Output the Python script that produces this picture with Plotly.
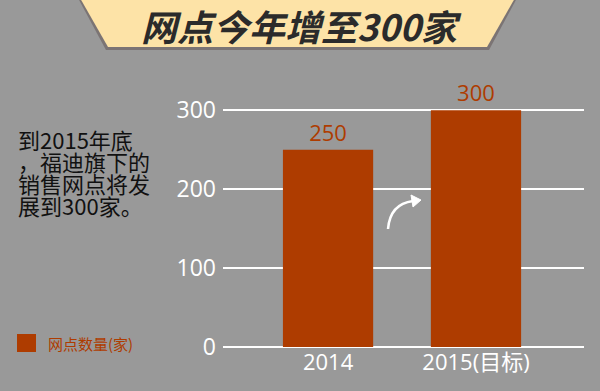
import plotly.graph_objects as go

categories = ["2014", "2015(目标)"]
values = [250, 300]
value_labels = ["250", "300"]
y_ticks = [0, 100, 200, 300]
series_name = "网点数量(家)"
title_text = "网点今年增至300家"
side_lines = ["到2015年底", "，福迪旗下的", "销售网点将发", "展到300家。"]

BG = "#999999"
BAR = "#ae3c00"
W, H = 600, 391
L, R, T, B = 223, 16, 108, 44
PW, PH = W - L - R, H - T - B

def px(x):
    return (x - L) / PW

def py(y):
    return (H - B - y) / PH

fig = go.Figure()
fig.add_trace(go.Bar(
    x=categories, y=values, name=series_name,
    marker=dict(color=BAR, line=dict(width=0)),
    width=0.61,
    text=value_labels, textposition="outside",
    textfont=dict(color=BAR, size=22, family="Open Sans, Noto Sans CJK SC"),
    cliponaxis=False, showlegend=False,
))

shapes = []
# banner shadow
shapes.append(dict(type="path", xref="paper", yref="paper",
                   path=f"M {px(78)} {py(-2)} L {px(517)} {py(-2)} L {px(489)} {py(50)} L {px(106)} {py(50)} Z",
                   fillcolor="#6e6464", line=dict(width=0), layer="below", opacity=0.7))
shapes.append(dict(type="path", xref="paper", yref="paper",
                   path=f"M {px(80)} {py(-2)} L {px(515)} {py(-2)} L {px(487)} {py(47)} L {px(108)} {py(47)} Z",
                   fillcolor="#fde3a7", line=dict(width=0), layer="below"))
# legend swatch
shapes.append(dict(type="rect", xref="paper", yref="paper",
                   x0=px(17), x1=px(36), y0=py(352), y1=py(334),
                   fillcolor=BAR, line=dict(width=0)))
# curved arrow
shapes.append(dict(type="path", xref="paper", yref="paper",
                   path=f"M {px(388)} {py(229)} Q {px(390)} {py(204)} {px(413)} {py(201)}",
                   line=dict(color="white", width=2.5)))
shapes.append(dict(type="path", xref="paper", yref="paper",
                   path=f"M {px(421)} {py(200)} L {px(411)} {py(195)} L {px(413)} {py(207)} Z",
                   fillcolor="white", line=dict(color="white", width=1)))

annotations = []
annotations.append(dict(xref="paper", yref="paper", x=px(301), y=py(25),
                        text=f"<b><i>{title_text}</i></b>", showarrow=False,
                        font=dict(size=36, color="#2b2b2b", family="Noto Sans CJK SC"),
                        xanchor="center", yanchor="middle"))
for i, line in enumerate(side_lines):
    annotations.append(dict(xref="paper", yref="paper", x=px(16), y=py(139 + 22 * i),
                            text=line, showarrow=False, xanchor="left", yanchor="middle",
                            font=dict(size=22, color="#111111", family="Noto Sans CJK SC")))
annotations.append(dict(xref="paper", yref="paper", x=px(46), y=py(343),
                        text=series_name, showarrow=False, xanchor="left", yanchor="middle",
                        font=dict(size=15, color=BAR, family="Noto Sans CJK SC")))

fig.update_layout(
    width=W, height=H,
    margin=dict(l=L, r=R, t=T, b=B),
    paper_bgcolor=BG, plot_bgcolor=BG,
    shapes=shapes, annotations=annotations,
    bargap=0.4,
    xaxis=dict(type="category", range=[-0.71, 1.73], showgrid=False, showline=False,
               ticks="", tickfont=dict(color="white", size=22, family="Open Sans, Noto Sans CJK SC")),
    yaxis=dict(range=[0, 303], tickvals=y_ticks, showgrid=True, gridcolor="white", gridwidth=2,
               zeroline=True, zerolinecolor="white", zerolinewidth=2, showline=False,
               ticks="", ticklabelstandoff=6,
               tickfont=dict(color="white", size=23, family="Open Sans, Noto Sans CJK SC")),
)

fig.write_html("out.html", config={"displayModeBar": False},
               post_script="document.body.style.margin='0';document.body.style.background='#999999';")
